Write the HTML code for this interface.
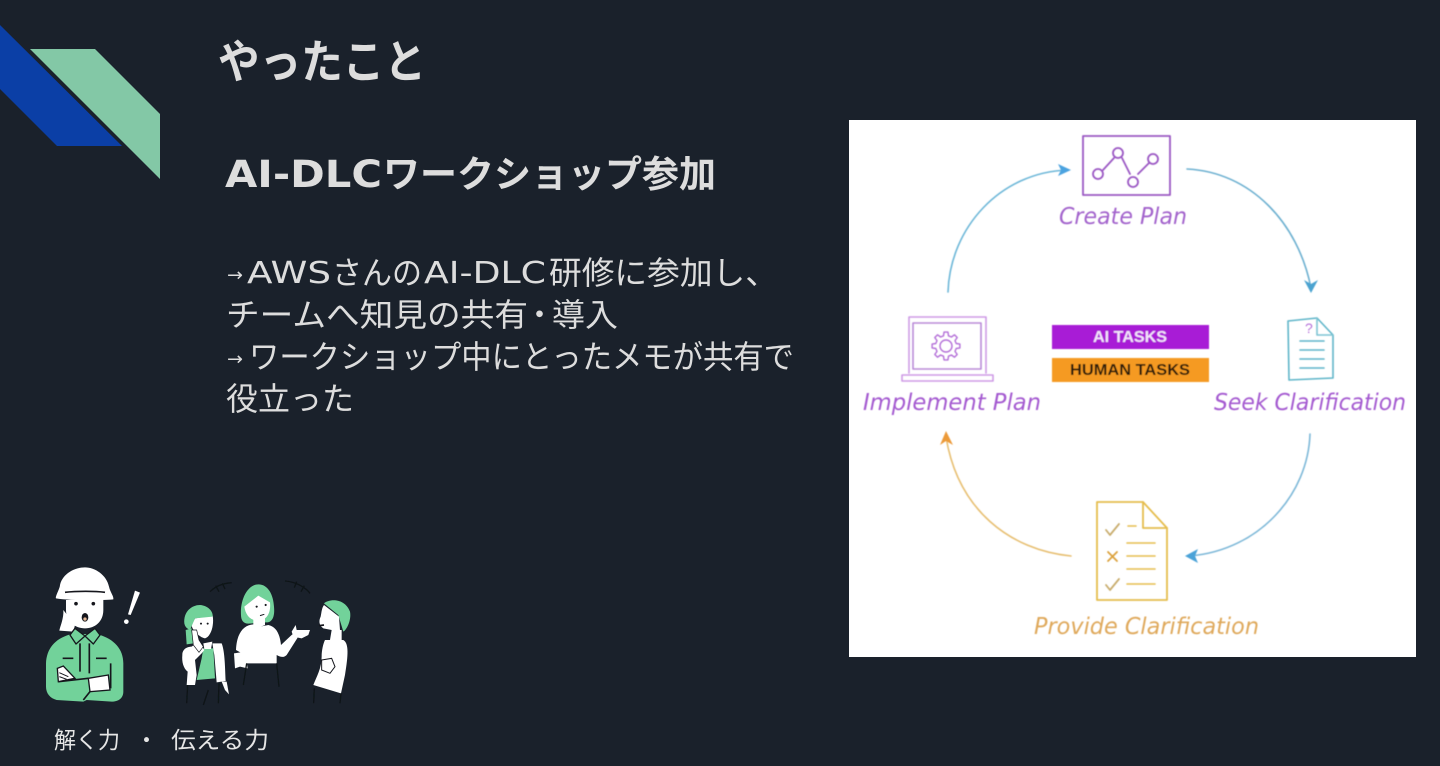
<!DOCTYPE html>
<html lang="ja"><head><meta charset="utf-8"><title>やったこと</title>
<style>
html,body{margin:0;padding:0;background:#1a212b;width:1440px;height:766px;overflow:hidden}
svg{display:block}
.jp{font-family:"Noto Sans CJK JP","Liberation Sans",sans-serif}
.la{font-family:"DejaVu Sans","Liberation Sans",sans-serif}
.lb{font-family:"DejaVu Sans","Liberation Sans",sans-serif;font-style:oblique}
</style></head><body>
<svg width="1440" height="766" viewBox="0 0 1440 766" xmlns="http://www.w3.org/2000/svg">
<defs>
<filter id="b" x="-5%" y="-5%" width="110%" height="110%"><feGaussianBlur stdDeviation="0.55"/></filter>
<filter id="s" x="-5%" y="-5%" width="110%" height="110%"><feGaussianBlur stdDeviation="0.35"/></filter>
</defs>
<rect width="1440" height="766" fill="#1a212b"/>
<polygon points="0,25 122,146 57,146 0,89" fill="#0b3fa6"/>
<polygon points="30,49 95,49 160,114 160,179" fill="#83c8a6"/>

<g class="jp" fill="#dddddd" filter="url(#s)">
<text x="218" y="78" font-size="46" font-weight="700" textLength="208" lengthAdjust="spacingAndGlyphs">やったこと</text>
<text class="la" x="225" y="187" font-size="37" font-weight="700" textLength="157" lengthAdjust="spacingAndGlyphs">AI-DLC</text>
<text x="383" y="187" font-size="37" font-weight="700" textLength="333" lengthAdjust="spacingAndGlyphs">ワークショップ参加</text>
<g font-size="32">
<text class="la" x="227" y="281" font-size="18" textLength="16" lengthAdjust="spacingAndGlyphs">→</text>
<text class="la" x="247" y="283" font-size="30" textLength="84" lengthAdjust="spacingAndGlyphs">AWS</text>
<text x="332" y="284" textLength="90" lengthAdjust="spacingAndGlyphs">さんの</text>
<text class="la" x="424" y="283" font-size="30" textLength="122" lengthAdjust="spacingAndGlyphs">AI-DLC</text>
<text x="549" y="284" textLength="229" lengthAdjust="spacingAndGlyphs">研修に参加し、</text>
<text x="226" y="326" textLength="302" lengthAdjust="spacingAndGlyphs">チームへ知見の共有</text>
<text x="524" y="326" font-size="31">・</text>
<text x="552" y="326" textLength="66" lengthAdjust="spacingAndGlyphs">導入</text>
<text class="la" x="227" y="365" font-size="18" textLength="16" lengthAdjust="spacingAndGlyphs">→</text>
<text x="249" y="368" textLength="545" lengthAdjust="spacingAndGlyphs">ワークショップ中にとったメモが共有で</text>
<text x="226" y="410" textLength="128" lengthAdjust="spacingAndGlyphs">役立った</text>
</g>
<g font-size="23" fill="#e6e6e6">
<text x="54" y="748" textLength="66" lengthAdjust="spacingAndGlyphs">解く力</text>
<text x="135" y="748">・</text>
<text x="171" y="748" textLength="98" lengthAdjust="spacingAndGlyphs">伝える力</text>
</g>
</g>

<!-- worker -->
<g transform="translate(40,560) scale(.3333)" filter="url(#s)">
<path d="M70 150 C72 175 60 200 58 212 L100 215 L105 195 L78 160 Z" fill="#fff"/>
<path d="M18 310 C20 265 45 235 95 222 L170 222 C220 235 250 265 250 310 L250 395 C250 415 235 425 215 425 L140 420 L130 425 L50 420 C30 415 18 400 18 380 Z" fill="#72d29a"/>
<path d="M78 120 H190 V150 C190 185 165 205 135 205 C105 205 78 185 78 150 Z" fill="#fff"/>
<path d="M90 225 L105 205 L135 228 L108 252 Z M135 228 L165 205 L180 225 L160 252 Z" fill="#72d29a" stroke="#14181f" stroke-width="4" stroke-linejoin="round"/>
<path d="M120 250 V335 M148 250 V340 M68 295 H100 M168 295 H200 M212 310 V385 M55 365 L145 355 M150 395 L130 420" stroke="#14181f" stroke-width="5" fill="none"/>
<path d="M145 355 L205 345 L210 390 L150 395 Z" fill="#fff" stroke="#14181f" stroke-width="4"/>
<path d="M52 325 L70 318 L105 355 L55 365 Z" fill="#fff" stroke="#14181f" stroke-width="4"/>
<path d="M58 338 L85 350 M58 350 L80 358" stroke="#14181f" stroke-width="3"/>
<path d="M48 115 C45 110 60 85 60 75 C68 40 105 22 135 22 C165 22 200 45 207 80 C210 95 222 110 220 118 C180 122 90 122 48 115 Z" fill="#fff"/>
<path d="M75 97 C110 93 165 93 195 97" stroke="#14181f" stroke-width="5" fill="none"/>
<circle cx="108" cy="131" r="5.5" fill="#14181f"/><circle cx="160" cy="131" r="5.5" fill="#14181f"/>
<ellipse cx="135" cy="172" rx="10" ry="13" fill="#14181f"/><circle cx="135" cy="177" r="5" fill="#e3b796"/>
<path d="M285 92 L300 98 L272 165 L264 163 Z" fill="#fff"/>
<circle cx="259" cy="185" r="7" fill="#fff"/>
</g>

<!-- group -->
<g transform="translate(175,575) scale(.3333)" filter="url(#s)">
<path d="M105 50 C120 35 140 25 170 23 M330 18 C360 20 390 35 405 55 M122 32 L132 50 M142 25 L150 42 M365 20 L358 38 M388 32 L378 50" stroke="#0f1319" fill="none" stroke-width="4"/>
<!-- person 1 -->
<path d="M32 165 L50 160 L55 205 L35 208 Z" fill="#72d29a"/>
<path d="M60 130 L113 122 C118 150 108 185 90 190 C75 188 50 165 50 150 Z" fill="#fff"/>
<path d="M28 145 C25 110 50 90 75 90 C100 92 115 110 113 125 L60 130 L45 165 C35 160 30 155 28 145 Z" fill="#72d29a"/>
<path d="M85 220 L115 220 L120 310 L65 315 L80 250 Z" fill="#72d29a"/>
<path d="M22 240 C22 220 40 215 50 215 L70 200 L88 225 L80 235 L60 255 L65 300 L60 330 L35 330 L38 290 C25 280 20 260 22 240 Z" fill="#fff"/>
<path d="M50 165 L65 165 L72 195 L85 215 L72 232 L55 210 Z" fill="#fff" stroke="#14181f" stroke-width="2"/>
<path d="M85 205 L112 200 L108 222 L88 222 Z" fill="#fff"/>
<path d="M112 205 L140 205 C150 230 150 280 152 318 L125 322 L118 240 Z" fill="#fff"/>
<path d="M140 320 L155 320 L162 358 L150 345 Z" fill="#fff"/>
<circle cx="78" cy="146" r="3" fill="#14181f"/><circle cx="98" cy="146" r="3" fill="#14181f"/>
<path d="M38 330 L35 385 M100 345 L85 390 M132 325 L130 385" stroke="#0f1319" stroke-width="4" fill="none"/>
<!-- person 2 -->
<path d="M198 120 C195 70 220 28 250 28 C280 28 295 60 297 95 C300 125 292 145 270 142 L220 146 C205 146 198 135 198 120 Z" fill="#72d29a"/>
<path d="M208 95 L250 62 L285 82 C288 110 278 135 250 137 C225 137 212 120 208 95 Z" fill="#fff"/>
<path d="M235 130 H270 V150 L255 156 L235 150 Z" fill="#fff"/>
<circle cx="245" cy="95" r="3.2" fill="#14181f"/><circle cx="272" cy="90" r="3.2" fill="#14181f"/>
<path d="M255 122 L268 118" stroke="#14181f" stroke-width="3"/>
<path d="M183 225 C185 175 205 150 235 148 L255 155 L280 150 C305 155 315 180 318 210 L352 178 L368 188 L335 240 C325 250 315 245 305 240 L305 265 L215 265 L210 240 Z" fill="#fff"/>
<path d="M350 170 L362 150 L365 165 L405 165 L400 180 L380 190 L355 185 Z" fill="#fff"/>
<path d="M177 235 L210 230 L218 280 L195 275 L180 280 Z" fill="#fff"/>
<path d="M215 265 L205 330 M305 265 L312 335" stroke="#0f1319" stroke-width="4" fill="none"/>
<!-- person 3 -->
<path d="M447 85 C465 70 510 70 525 110 C530 135 515 165 505 170 L490 120 Z" fill="#72d29a"/>
<path d="M447 90 L492 125 L495 165 L470 165 L445 160 C430 150 432 135 437 125 C440 110 440 100 447 90 Z" fill="#fff"/>
<path d="M470 165 L500 165 L500 195 L465 195 Z" fill="#fff"/>
<path d="M450 195 L505 195 C522 205 520 240 510 300 L498 355 L415 330 C425 305 440 280 440 245 C440 225 445 205 450 195 Z" fill="#fff"/>
<path d="M440 255 L470 250 L480 275 L465 295 L440 285 Z" fill="#fff" stroke="#14181f" stroke-width="3"/>
<path d="M432 152 L447 150" stroke="#14181f" stroke-width="5"/>
<path d="M418 340 L416 385 M498 355 L495 385" stroke="#0f1319" stroke-width="4" fill="none"/>
</g>

<!-- diagram -->
<rect x="849" y="120" width="567" height="537" fill="#ffffff"/>
<g filter="url(#b)">
<g fill="none" stroke-linecap="round" stroke-linejoin="round">
<g stroke="#9b59c4" stroke-width="1.8">
<rect x="1083" y="136" width="87" height="59"/>
<path d="M1103 170 L1114 158 M1122 158 L1130 174 M1138 174 L1149 163"/>
<circle cx="1098" cy="174" r="5"/><circle cx="1118" cy="153" r="5"/><circle cx="1133" cy="182" r="5"/><circle cx="1153" cy="159" r="5"/>
</g>
<g stroke="#cf9be6" stroke-width="1.6">
<path d="M909 373 V317 H986 V373"/>
<rect x="913" y="323" width="68" height="46" stroke="#b98ad8"/>
<rect x="902" y="375" width="91" height="6"/>
<g transform="translate(946,346)" stroke="#b46fd8" stroke-width="1.4">
<circle r="6"/>
<polygon points="10.2,-2.5 13.9,-1.95 13.9,1.95 10.2,2.5 9,5.4 11.2,8.45 8.45,11.2 5.4,9 2.5,10.2 1.95,13.9 -1.95,13.9 -2.5,10.2 -5.4,9 -8.45,11.2 -11.2,8.45 -9,5.4 -10.2,2.5 -13.9,1.95 -13.9,-1.95 -10.2,-2.5 -9,-5.4 -11.2,-8.45 -8.45,-11.2 -5.4,-9 -2.5,-10.2 -1.95,-13.9 1.95,-13.9 2.5,-10.2 5.4,-9 8.45,-11.2 11.2,-8.45 9,-5.4"/>
</g>
</g>
<g stroke="#5fb5c9" stroke-width="1.6">
<path d="M1288 321 L1317 318 L1333 335 V378 L1289 380 Z"/>
<path d="M1317 318 V335 H1333" stroke="#7dc4d3"/>
<path d="M1300 341 H1324 M1300 350 H1324 M1300 359 H1324 M1300 368 H1324"/>
</g>
<g stroke="#e5bd4e" stroke-width="1.8">
<path d="M1097 502 H1143 L1167 528 V600 H1097 Z"/>
<path d="M1143 502 V528 H1167"/>
<path d="M1127 556 H1155 M1127 543 H1155 M1127 569 H1155 M1127 584 H1155 M1128 526 H1136" stroke-width="1.6"/>
<path d="M1106 530 L1110 535 L1119 524 M1106 585 L1110 590 L1119 579" stroke="#c9ad6e"/>
<path d="M1108 552 L1117 561 M1117 552 L1108 561" stroke="#dca23c"/>
</g>
<path d="M948 292 C950 228 1000 172 1068 170" stroke="#6db7d8" stroke-width="1.6"/>
<path d="M1187 169 C1250 172 1298 222 1311 288" stroke="#6db0d0" stroke-width="1.6"/>
<path d="M1310 434 C1308 494 1260 550 1190 556" stroke="#7db8d8" stroke-width="1.6"/>
<path d="M1071 556 C1010 550 958 510 946 437" stroke="#e7bf72" stroke-width="1.6"/>
</g>
<path d="M1071 170 L1058 164 L1061 170 L1058 176 Z" fill="#4ba3e0"/>
<path d="M1311 293 L1304 280 L1311 284 L1318 280 Z" fill="#4ba3d0"/>
<path d="M1185 556 L1198 549 L1195 556 L1198 563 Z" fill="#4ba3d8"/>
<path d="M946 431 L940 445 L946 441 L953 445 Z" fill="#ec9a38"/>
<rect x="1052" y="325" width="157" height="24" fill="#a81fd6"/>
<rect x="1052" y="358" width="157" height="24" fill="#f59a23"/>
<g font-family="'Liberation Sans',sans-serif" font-weight="700" font-size="16" text-anchor="start">
<text x="1093" y="342" fill="#f3e3fa" textLength="74" lengthAdjust="spacingAndGlyphs">AI TASKS</text>
<text x="1070" y="375" fill="#2a1a08" textLength="120" lengthAdjust="spacingAndGlyphs">HUMAN TASKS</text>
</g>
<text x="1305" y="333" font-family="'Liberation Sans',sans-serif" font-size="14" fill="#b46fd8">?</text>
<g class="lb" font-size="23">
<text x="1059" y="224" fill="#a363cc" textLength="128" lengthAdjust="spacingAndGlyphs">Create Plan</text>
<text x="863" y="410" fill="#a45ad0" textLength="178" lengthAdjust="spacingAndGlyphs">Implement Plan</text>
<text x="1214" y="410" fill="#a45ad0" textLength="192" lengthAdjust="spacingAndGlyphs">Seek Clarification</text>
<text x="1034" y="634" fill="#dfa95c" textLength="225" lengthAdjust="spacingAndGlyphs">Provide Clarification</text>
</g>
</g>
</svg>
</body></html>
